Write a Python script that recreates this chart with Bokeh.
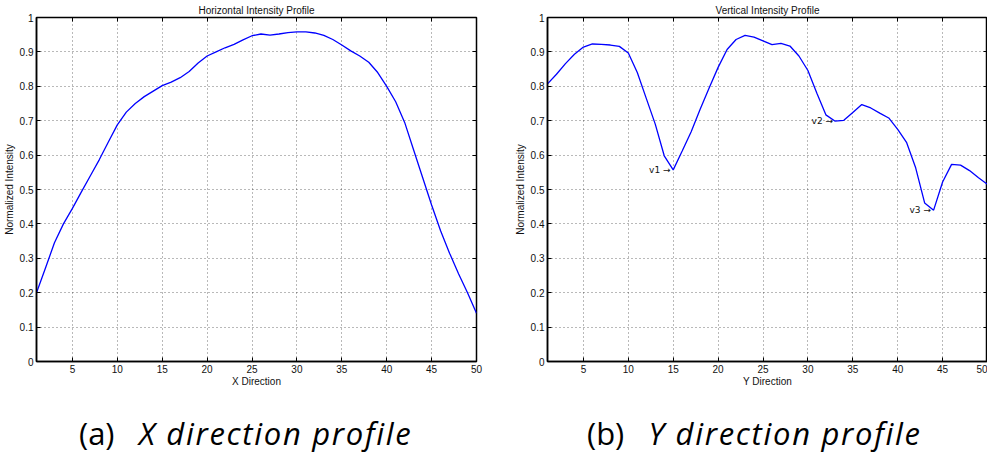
from bokeh.plotting import figure
from bokeh.models import (Range1d, FixedTicker, NumeralTickFormatter, LinearAxis,
                          Div, ColumnDataSource)
from bokeh.layouts import column, row
from bokeh.embed import file_html
from bokeh.resources import INLINE
from bokeh.core.properties import value

# ---------------- data ----------------
positions = list(range(1, 51))

horizontal_profile = [
    0.200, 0.272, 0.345, 0.400, 0.445, 0.493, 0.540, 0.587, 0.638, 0.688,
    0.725, 0.750, 0.770, 0.786, 0.802, 0.812, 0.825, 0.843, 0.868, 0.888,
    0.900, 0.912, 0.922, 0.935, 0.947, 0.952, 0.949, 0.952, 0.956, 0.958,
    0.958, 0.955, 0.948, 0.936, 0.920, 0.903, 0.888, 0.870, 0.840, 0.800,
    0.755, 0.695, 0.615, 0.535, 0.455, 0.380, 0.315, 0.255, 0.200, 0.140,
]

vertical_profile = [
    0.807, 0.835, 0.866, 0.893, 0.914, 0.923, 0.922, 0.920, 0.916, 0.897,
    0.840, 0.765, 0.690, 0.598, 0.557, 0.612, 0.668, 0.733, 0.795, 0.855,
    0.907, 0.936, 0.948, 0.943, 0.932, 0.921, 0.925, 0.917, 0.888, 0.846,
    0.780, 0.717, 0.699, 0.701, 0.724, 0.747, 0.737, 0.722, 0.708, 0.675,
    0.636, 0.563, 0.461, 0.440, 0.522, 0.573, 0.571, 0.555, 0.534, 0.515,
]

x_ticks = [5, 10, 15, 20, 25, 30, 35, 40, 45, 50]
y_ticks = [0.0, 0.1, 0.2, 0.3, 0.4, 0.5, 0.6, 0.7, 0.8, 0.9, 1.0]

valley_labels = ["v1 \u2192", "v2 \u2192", "v3 \u2192"]
valley_x = [14.7, 32.8, 43.7]
valley_y = [0.556, 0.699, 0.440]

titles = ["Horizontal Intensity Profile", "Vertical Intensity Profile"]
x_labels = ["X Direction", "Y Direction"]
y_label = "Normalized Intensity"
captions = [("(a)", "X direction profile"), ("(b)", "Y direction profile")]

FONT = "Liberation Sans"


def make_panel(title, xlabel, yvals, left_border, right_border):
    p = figure(frame_width=440, frame_height=344,
               x_range=Range1d(1, 50), y_range=Range1d(0, 1),
               output_backend="svg", toolbar_location=None,
               min_border_left=left_border, min_border_right=right_border,
               min_border_top=0, min_border_bottom=0,
               background_fill_color="white", border_fill_color="white")
    p.title.text = title
    p.title.align = "center"
    p.title.text_font = FONT
    p.title.text_font_size = "10px"
    p.title.text_font_style = "normal"
    p.title.text_color = "#111111"
    p.title.standoff = 4
    p.title.offset = 0

    p.outline_line_color = "black"
    p.outline_line_width = 1.5
    p.outline_line_alpha = 1.0

    for ax in (p.xaxis[0], p.yaxis[0]):
        ax.major_tick_in = 4
        ax.major_tick_out = 0
        ax.minor_tick_line_color = None
        ax.major_tick_line_color = "black"
        ax.axis_line_color = "black"
        ax.axis_line_width = 1.5
        ax.major_label_text_font = FONT
        ax.major_label_text_font_size = "10px"
        ax.major_label_text_color = "#111111"
        ax.axis_label_text_font = FONT
        ax.axis_label_text_font_size = "10px"
        ax.axis_label_text_font_style = "normal"
        ax.axis_label_text_color = "#111111"
    p.xaxis[0].major_label_standoff = 3
    p.xaxis[0].axis_label_standoff = 0
    p.yaxis[0].major_label_standoff = 3
    p.yaxis[0].axis_label_standoff = 2

    p.xaxis[0].ticker = FixedTicker(ticks=x_ticks)
    p.yaxis[0].ticker = FixedTicker(ticks=y_ticks)
    p.yaxis[0].formatter = NumeralTickFormatter(format="0.[0]")
    p.xaxis[0].axis_label = xlabel
    p.yaxis[0].axis_label = y_label

    # inward ticks on the top and right edges (box on), no labels drawn
    top = LinearAxis(ticker=FixedTicker(ticks=x_ticks), major_tick_in=4,
                     major_tick_out=0, minor_tick_line_color=None,
                     axis_line_color=None, major_label_text_color=None,
                     major_label_text_font_size="1px", major_label_standoff=0)
    right = LinearAxis(ticker=FixedTicker(ticks=y_ticks), major_tick_in=4,
                       major_tick_out=0, minor_tick_line_color=None,
                       axis_line_color=None, major_label_text_color=None,
                       major_label_text_font_size="1px", major_label_standoff=0)
    p.add_layout(top, "above")
    p.add_layout(right, "right")

    p.xgrid.ticker = FixedTicker(ticks=x_ticks)
    p.ygrid.ticker = FixedTicker(ticks=y_ticks)
    for g in (p.xgrid[0], p.ygrid[0]):
        g.grid_line_color = "black"
        g.grid_line_alpha = 0.55
        g.grid_line_dash = "1 3"
        g.grid_line_width = 1

    src = ColumnDataSource(dict(x=positions, y=yvals))
    p.line("x", "y", source=src, line_color="#0000ff", line_width=1.3)
    return p


p1 = make_panel(titles[0], x_labels[0], horizontal_profile, 29, 35)
p2 = make_panel(titles[1], x_labels[1], vertical_profile, 29, 0)

ann = ColumnDataSource(dict(x=valley_x, y=valley_y, t=valley_labels))
p2.text("x", "y", text="t", source=ann, text_align="right",
        text_baseline="middle", text_font=value("DejaVu Sans"),
        text_font_size="9px", text_color="#111111")

CAP_FONT = "'Open Sans',sans-serif"


def caption(tag, body, width, pad_left):
    html = ('<div style="font-family:%s;'
            'font-size:31px;font-weight:400;color:#000;white-space:nowrap;'
            'padding-left:%dpx;padding-top:17px;">'
            '<span>%s</span>&nbsp;&nbsp;&nbsp;'
            '<i style="letter-spacing:1.7px;">%s</i></div>'
            % (CAP_FONT.replace("'", "&#39;"), pad_left, tag, body))
    return Div(text=html, width=width, height=60)


c1 = caption(*captions[0], width=511, pad_left=74)
c2 = caption(*captions[1], width=468, pad_left=61)

layout = column(row(p1, p2, spacing=0), row(c1, c2, spacing=0), spacing=0)

with open("out.html", "w") as f:
    f.write(file_html(layout, INLINE))
